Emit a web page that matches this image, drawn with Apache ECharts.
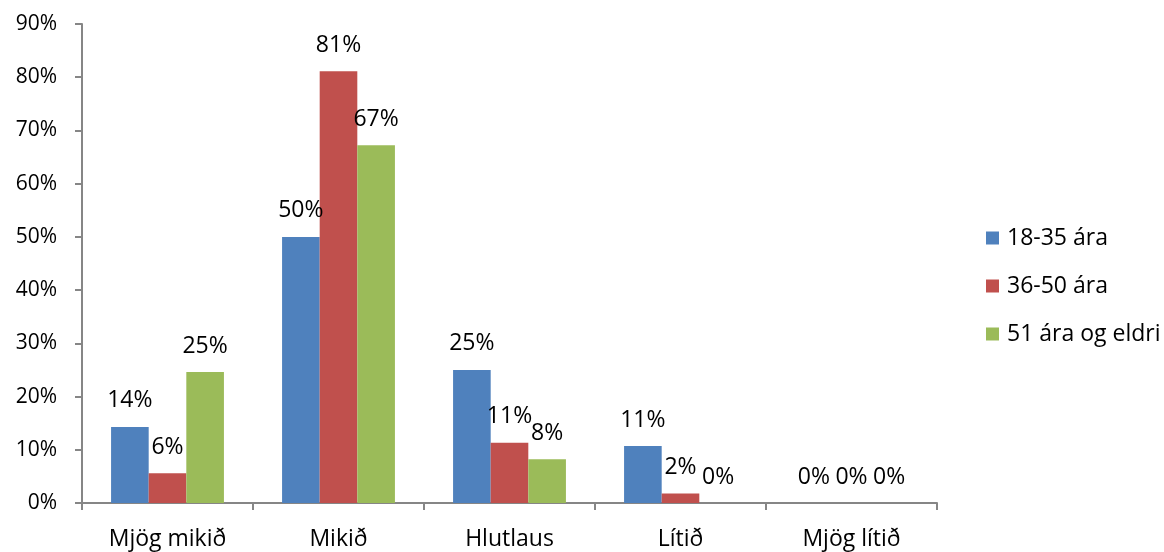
<!DOCTYPE html>
<html>
<head>
<meta charset="utf-8">
<script src="https://cdn.jsdelivr.net/npm/echarts@6/dist/echarts.min.js"></script>
<style>html,body{margin:0;padding:0;background:#fff}#c{width:1164px;height:552px}</style>
</head>
<body>
<div id="c"></div>
<script>
const categories = ['Mjög mikið', 'Mikið', 'Hlutlaus', 'Lítið', 'Mjög lítið'];
const seriesNames = ['18-35 ára', '36-50 ára', '51 ára og eldri'];
const age18to35 = [14.3, 50.0, 25.0, 10.7, 0];
const age36to50 = [5.6, 81.1, 11.3, 1.8, 0];
const age51plus = [24.6, 67.2, 8.2, 0, 0];
const yTicks = [0, 10, 20, 30, 40, 50, 60, 70, 80, 90];

const colors = ['#4F81BD', '#C0504D', '#9BBB59'];
const FONT = 'Open Sans';
const chart = echarts.init(document.getElementById('c'));
const mk = (name, data, i) => ({
  name, type: 'bar', data,
  barGap: '0%', barCategoryGap: '34%',
  itemStyle: { color: colors[i] },
  label: {
    show: true, position: 'top', distance: 13,
    color: '#000', fontSize: 23, fontFamily: FONT, lineHeight: 26,
    formatter: p => Math.round(p.value) + '%'
  }
});
chart.setOption({
  animation: false,
  textStyle: { fontFamily: FONT },
  grid: { left: 82, right: 227, top: 24, bottom: 48, containLabel: false },
  legend: {
    orient: 'vertical', left: 981, top: 220,
    itemWidth: 13, itemHeight: 13, itemGap: 22,
    icon: 'rect',
    textStyle: { fontSize: 23, fontFamily: FONT, color: '#000', lineHeight: 26, padding: [0, 0, 0, 3] },
    data: seriesNames
  },
  xAxis: {
    type: 'category', data: categories,
    axisLine: { lineStyle: { color: '#868686', width: 2 } },
    axisTick: { show: true, length: 7, lineStyle: { color: '#868686', width: 2 } },
    axisLabel: { color: '#000', fontSize: 23, fontFamily: FONT, lineHeight: 26, margin: 23 }
  },
  yAxis: {
    type: 'value', min: yTicks[0], max: yTicks[yTicks.length - 1], interval: 10,
    splitLine: { show: false },
    axisLine: { show: true, lineStyle: { color: '#868686', width: 2 } },
    axisTick: { show: true, length: 7, lineStyle: { color: '#868686', width: 2 } },
    axisLabel: { color: '#000', fontSize: 21, fontFamily: FONT, margin: 25, formatter: '{value}%' }
  },
  series: [mk(seriesNames[0], age18to35, 0), mk(seriesNames[1], age36to50, 1), mk(seriesNames[2], age51plus, 2)]
});
</script>
</body>
</html>
